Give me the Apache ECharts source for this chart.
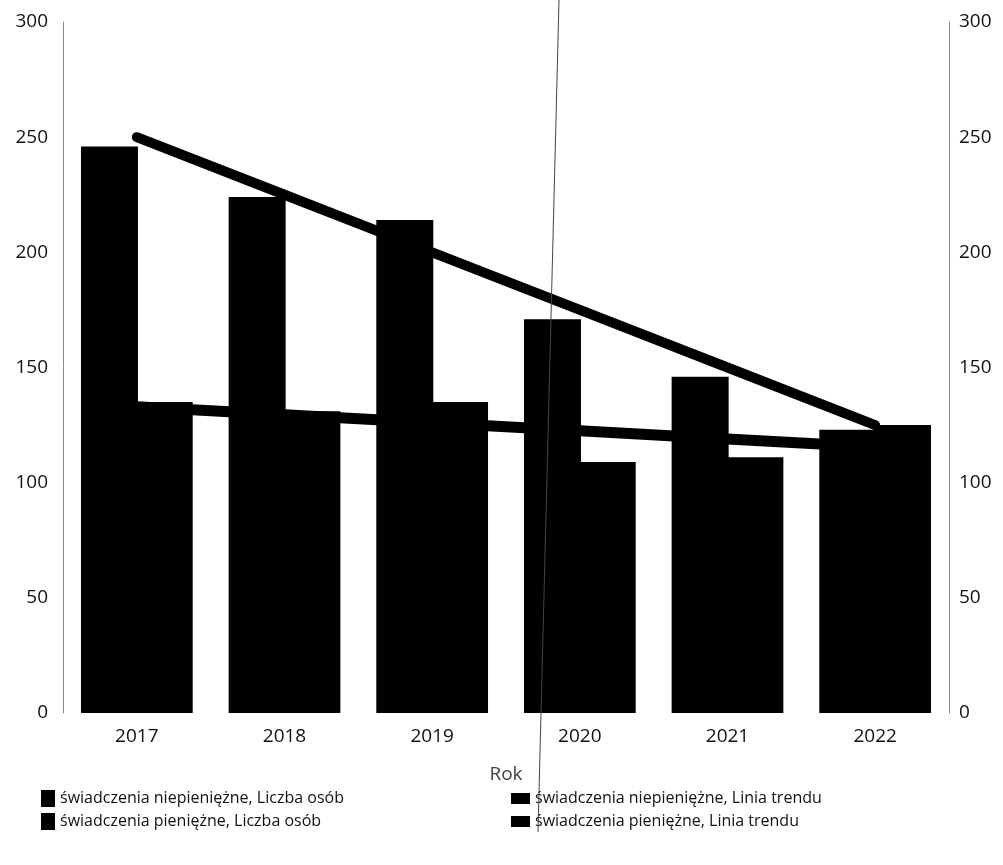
<!DOCTYPE html>
<html>
<head>
<meta charset="utf-8">
<script src="https://cdn.jsdelivr.net/npm/echarts@6/dist/echarts.min.js"></script>
<style>
html,body{margin:0;padding:0;background:#fff;}
#chart{width:1003px;height:865px;}
</style>
</head>
<body>
<div id="chart"></div>
<script>
var years = ['2017', '2018', '2019', '2020', '2021', '2022'];
var niepieniezneOsoby = [246, 224, 214, 171, 146, 123];
var pieniezneOsoby = [135, 131, 135, 109, 111, 125];
var niepieniezneTrend = [250, 225, 200, 175, 150, 125];
var pienieznTrend = [133, 129.5, 126, 122.5, 119, 115.5];
var yTicks = { min: 0, max: 300, interval: 50 };

var names = [
    'świadczenia niepieniężne, Liczba osób',
    'świadczenia pieniężne, Liczba osób',
    'świadczenia niepieniężne, Linia trendu',
    'świadczenia pieniężne, Linia trendu'
];

var font = '"Open Sans", "DejaVu Sans", sans-serif';

function yAxis(pos) {
    return {
        type: 'value',
        position: pos,
        min: yTicks.min,
        max: yTicks.max,
        interval: yTicks.interval,
        axisLine: { show: true, lineStyle: { color: '#888', width: 1 } },
        axisTick: { show: false },
        splitLine: { show: false },
        axisLabel: {
            color: '#111',
            fontSize: 19,
            fontFamily: font,
            margin: pos == 'left' ? 15 : 10
        }
    };
}

var legendText = { color: '#111', fontSize: 16, fontFamily: font, lineHeight: 17 };

var myChart = echarts.init(document.getElementById('chart'));
var option = {
    animation: false,
    backgroundColor: '#fff',
    grid: { left: 63, right: 54, top: 22, bottom: 152 },
    legend: [
        {
            // kolumna słupków
            orient: 'vertical',
            left: 36,
            top: 785,
            icon: 'rect',
            itemWidth: 14,
            itemHeight: 17,
            itemGap: 6,
            textStyle: legendText,
            data: [names[0], names[1]]
        },
        {
            // kolumna linii trendu
            orient: 'vertical',
            left: 506,
            top: 785,
            icon: 'rect',
            itemWidth: 19,
            itemHeight: 11,
            itemGap: 6,
            textStyle: legendText,
            data: [names[2], names[3]]
        }
    ],
    xAxis: {
        type: 'category',
        data: years,
        name: 'Rok',
        nameLocation: 'middle',
        nameGap: 52,
        nameTextStyle: { color: '#444', fontSize: 19, fontFamily: font },
        axisLine: { show: false },
        axisTick: { show: false },
        axisLabel: { color: '#111', fontSize: 19, fontFamily: font, margin: 14 }
    },
    yAxis: [yAxis('left'), yAxis('right')],
    series: [
        {
            name: names[0],
            type: 'bar',
            barWidth: 57,
            barGap: '-4%',
            itemStyle: { color: '#000' },
            data: niepieniezneOsoby
        },
        {
            name: names[1],
            type: 'bar',
            barWidth: 57,
            barGap: '-4%',
            itemStyle: { color: '#000' },
            data: pieniezneOsoby
        },
        {
            name: names[2],
            type: 'line',
            yAxisIndex: 1,
            symbol: 'none',
            itemStyle: { color: '#000' },
            lineStyle: { color: '#000', width: 10, cap: 'round' },
            data: niepieniezneTrend
        },
        {
            name: names[3],
            type: 'line',
            yAxisIndex: 1,
            symbol: 'none',
            itemStyle: { color: '#000' },
            lineStyle: { color: '#000', width: 11, cap: 'round' },
            data: pienieznTrend
        }
    ],
    graphic: [
        {
            // cienka pionowa kreska ze skanu
            type: 'line',
            z: 100,
            shape: { x1: 559, y1: 0, x2: 538, y2: 832 },
            style: { stroke: '#444', lineWidth: 1 }
        }
    ]
};
myChart.setOption(option);
window.addEventListener('resize', function () {
    myChart.resize();
});
</script>
</body>
</html>
